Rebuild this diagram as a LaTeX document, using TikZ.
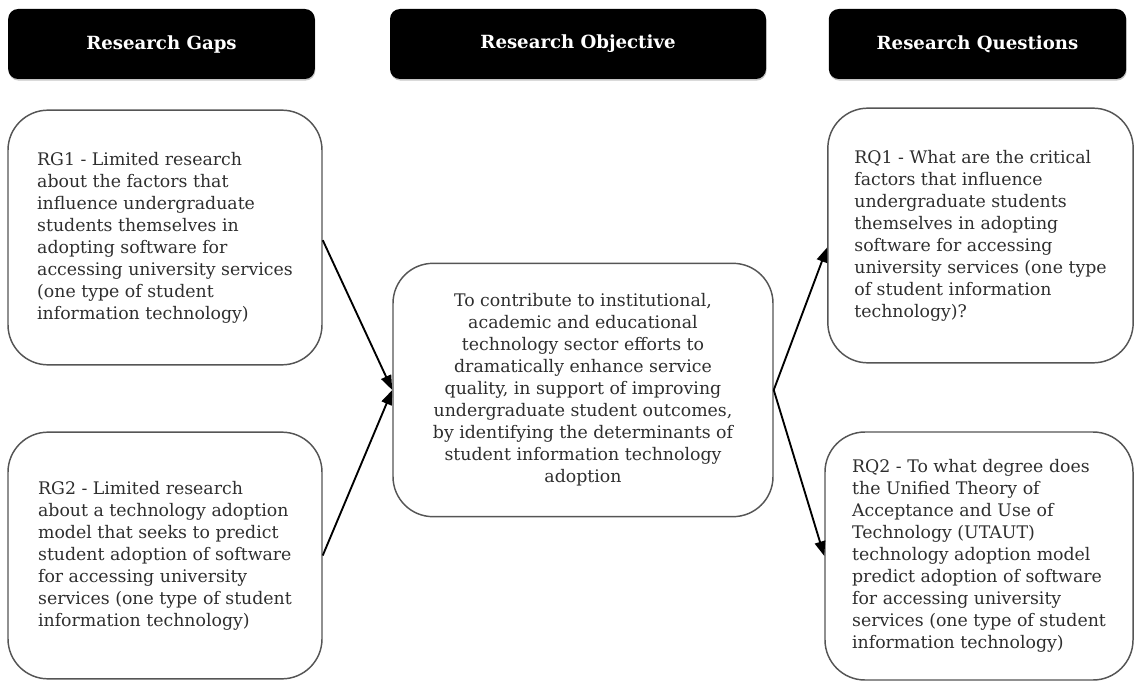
\documentclass[tikz,border=0pt]{standalone}
\usepackage{fontspec}
\setmainfont{DejaVu Serif}
\usetikzlibrary{arrows.meta,shadows}
\definecolor{boxline}{HTML}{555555}
\definecolor{txt}{HTML}{2e2e2e}
\begin{document}
\begin{tikzpicture}[x=0.75pt,y=-0.75pt,
  header/.style={fill=black, rounded corners=7.5pt, inner sep=0pt,
    minimum width=#1, minimum height=52.5pt, text=white,
    font=\fontsize{13.6}{15}\selectfont\bfseries,
    drop shadow={shadow xshift=0.4pt, shadow yshift=-1.2pt, fill=black!45}},
  card/.style={draw=boxline, line width=1.1pt, rounded corners=30pt, inner sep=0pt,
    minimum width=#1, text=txt, font=\fontsize{13}{16.5}\selectfont},
  link/.style={draw=black, line width=1.4pt, -{Triangle[length=11pt,width=8pt]}}]
\useasboundingbox (0,0) rectangle (1134,681);

% column headings
\node[header=230pt] (h1) at (161.5,44) {Research Gaps};
\node[header=282pt] (h2) at (578,44) {Research Objective};
\node[header=223pt] (h3) at (977.5,44) {Research Questions};

% research gaps
\node[card=235.5pt, minimum height=191pt, align=left] (rg1) at (165,237.5)
  {RG1 - Limited research\\about the factors that\\influence undergraduate\\students themselves in\\adopting software for\\accessing university services\\(one type of student\\information technology)};
\node[card=235.5pt, minimum height=185pt, align=left] (rg2) at (165,555.5)
  {RG2 - Limited research\\about a technology adoption\\model that seeks to predict\\student adoption of software\\for accessing university\\services (one type of student\\information technology)};

% research objective
\node[card=285pt, minimum height=190pt, align=center] (obj) at (583,390)
  {To contribute to institutional,\\academic and educational\\technology sector efforts to\\dramatically enhance service\\quality, in support of improving\\undergraduate student outcomes,\\by identifying the determinants of\\student information technology\\adoption};

% research questions
\node[card=229pt, minimum height=191pt, align=left] (rq1) at (980.5,235.5)
  {RQ1 - What are the critical\\factors that influence\\undergraduate students\\themselves in adopting\\software for accessing\\university services (one type\\of student information\\technology)?};
\node[card=231pt, minimum height=186pt, align=left] (rq2) at (979,556)
  {RQ2 - To what degree does\\the Unified Theory of\\Acceptance and Use of\\Technology (UTAUT)\\technology adoption model\\predict adoption of software\\for accessing university\\services (one type of student\\information technology)};

% connectors
\draw[link] ([yshift=-2pt]rg1.east) -- (obj.west);
\draw[link] (rg2.east) -- (obj.west);
\draw[link] (obj.east) -- ([yshift=-9pt]rq1.west);
\draw[link] (obj.east) -- (rq2.west);
\end{tikzpicture}
\end{document}
